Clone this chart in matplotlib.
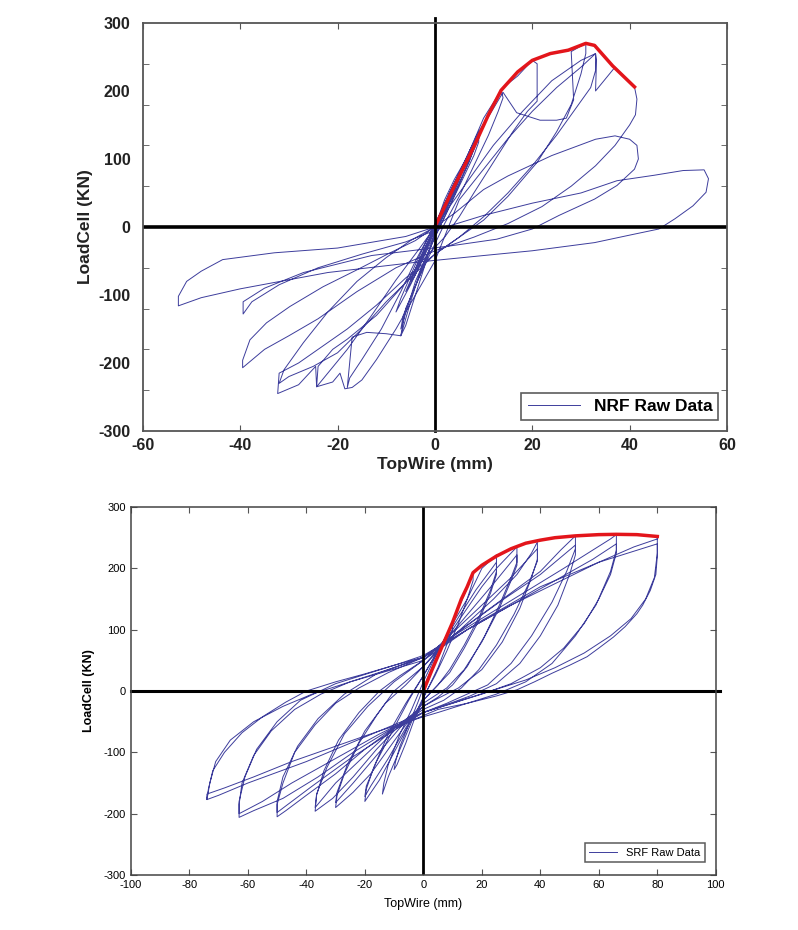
import numpy as np
import matplotlib.pyplot as plt
from matplotlib import font_manager
from matplotlib.ticker import MultipleLocator

plt.rcParams['axes.unicode_minus'] = False

# NRF specimen: TopWire (mm) vs LoadCell (kN), one list per loading cycle
nrf_x = [
    [0, 2, 4, 5, 4, 2, 0, -2, -4, -5, -4, -2, 0],
    [0, 3, 5, 3, 0, -3, -5, -3, 0],
    [0, 2, 4, 6, 5, 2, -1, -3, -6, -4, -1, 0],
    [0, 3, 6, 9, 10, 9, 6, 3, 0, -3, -5, -7, -6, -4, -2, 0, 1],
    [1, 5, 9, 9, 8, 4, 0, -4, -7, -6.5, -3, 0],
    [0, 4, 8, 7, 3, -1, -5, -8, -7, -4, 0],
    [0, 4, 7, 10, 13.6, 14, 13, 11, 8, 5, 2, 0, -3, -6, -7, -10, -14, -17, -18, -17.5, -15, -11, -7, -4, -1, 2],
    [2, 6, 10, 14, 17, 20, 21, 21, 19, 16, 12, 8, 5, 2, -2, -7, -12, -18, -21, -24, -24.3, -22, -18, -13, -8, -3, 1],
    [1, 6, 10, 14, 16.8, 21.6, 25, 27, 28.5, 28, 31, 31, 30, 28, 25, 21, 15, 10, 5, 0, -6, -12, -18, -24, -28, -32, -32.3,
     -28, -24.5, -24.3, -21, -19.5, -18.5, -17, -15, -12, -8, -4, 0],
    [0, 5, 10, 15, 20, 25, 30, 33, 33, 32, 29, 25, 20, 15, 10, 5, 0, -5, -10, -15, -20, -25, -30, -32, -31, -27, -22, -16,
     -10, -5, 0],
    [0, 6, 12, 18, 24, 30, 33, 33.2, 33, 37, 41, 41.5, 41.2, 40, 37, 33, 28, 22, 15, 8, 0, -8, -16, -24, -30, -35, -39.5,
     -39.5, -38, -34.6, -29.8, -23, -16, -9.2, -4, 0],
    [0, 4, 10, 15, 24, 33, 37, 40, 41.5, 41.8, 41, 37.4, 32.8, 25.5, 20, 12.7, 3, -13, -27, -35, -39.4, -39.4, -37.6, -32,
     -24, -15, -6, 0],
    [0, 10, 20, 30, 37.4, 45, 51, 55.3, 56.2, 55.7, 53, 49.3, 46, 40, 32.8, 20, 10, -4, -22, -40, -48, -52.7, -52.7, -51,
     -48, -43.6, -33, -20, -6, 0],
]
nrf_y = [
    [0, 35, 65, 78, 60, 25, -5, -35, -65, -80, -62, -30, 0],
    [0, 50, 75, 40, -5, -50, -78, -45, 0],
    [0, 40, 70, 95, 70, 20, -20, -45, -95, -70, -20, 0],
    [0, 50, 95, 140, 152, 130, 80, 30, -15, -65, -110, -160, -145, -100, -55, -10, 10],
    [10, 80, 140, 125, 105, 45, -15, -80, -150, -130, -70, -10],
    [-10, 55, 115, 95, 35, -25, -85, -125, -105, -55, 5],
    [5, 60, 110, 160, 201, 190, 170, 135, 90, 45, 5, -25, -70, -120, -160, -157, -155, -162, -236, -222, -195, -150, -95,
     -50, -10, 25],
    [25, 90, 150, 205, 222, 245, 240, 185, 170, 140, 95, 50, 15, -15, -45, -90, -130, -165, -180, -205, -235, -215, -180,
     -130, -78, -30, 10],
    [10, 90, 150, 198, 168, 157, 157, 160, 187, 258, 270, 255, 225, 180, 140, 95, 45, 10, -15, -40, -75, -115, -150, -180,
     -200, -215, -245, -232, -205, -235, -228, -215, -238, -236, -225, -195, -150, -100, -50],
    [-50, 40, 85, 130, 170, 205, 235, 255, 230, 205, 175, 135, 90, 50, 15, -15, -40, -75, -110, -150, -185, -205, -220,
     -230, -210, -170, -125, -80, -45, -20, 0],
    [0, 60, 120, 170, 215, 245, 255, 246, 200, 235, 206, 188, 165, 150, 120, 90, 60, 30, 5, -15, -35, -60, -95, -135, -160,
     -180, -207, -196, -166, -141, -117, -88, -63, -38, -20, 0],
    [0, 20, 55, 75, 105, 129, 134, 129, 120, 100, 85, 61, 41, 17, -3, -18, -28, -42, -67, -90, -110, -128, -110, -85, -60,
     -40, -22, -5],
    [-5, 17, 35, 50, 68, 76, 83, 84, 71, 51, 31, 12, -3, -12, -23, -35, -42, -52, -67, -91, -104, -116, -102, -80, -65,
     -48, -38, -31, -14, 0],
]
nrf_env_x = [0, 4, 8, 11, 13.6, 17, 20, 23.7, 27.4, 31, 32.8, 36.5, 41]
nrf_env_y = [0, 60, 118, 165, 201, 228, 245, 255, 260, 270, 267, 237, 206]

# SRF specimen
srf_x = [
    [0, 3, 6, 10, 10, 8, 5, 2, 0, -3, -6, -9, -10, -9.5, -8, -5, -2, 0],
    [0, 4, 8, 12, 15, 17, 17, 15, 12, 8, 4, 0, -4, -8, -12, -14, -13.5, -12, -8, -4, 0],
    [0, 5, 10, 15, 20, 25, 25, 23, 19, 14, 9, 5, 0, -5, -10, -15, -20, -19.5, -17, -12, -6, 0],
    [0, 6, 12, 18, 25, 25, 23, 19, 14, 9, 4, 0, -6, -12, -18, -20, -19.5, -16, -10, -5, 0],
    [0, 5, 10, 15, 20, 25, 30, 32, 32, 30, 26, 21, 15, 10, 5, 0, -6, -12, -18, -24, -30, -29.5, -27, -22, -16, -10, -5, 0],
    [0, 8, 16, 24, 32, 32, 30, 26, 20, 14, 8, 0, -8, -16, -24, -30, -29.5, -26, -20, -13, -6, 0],
    [0, 8, 16, 24, 32, 37, 39, 39, 36, 31, 25, 19, 13, 7, 0, -8, -16, -24, -31, -37, -36.5, -34, -29, -22, -15, -8, 0],
    [0, 10, 20, 30, 39, 39, 37, 33, 27, 20, 12, 5, 0, -10, -20, -30, -37, -36.5, -33, -27, -19, -10, 0],
    [0, 10, 20, 30, 40, 47, 52, 52, 49, 44, 37, 30, 22, 15, 8, 0, -10, -20, -30, -40, -47, -50, -50, -48, -44, -37, -30,
     -22, -12, 0],
    [0, 13, 26, 40, 52, 52, 50, 46, 40, 33, 25, 16, 8, 0, -12, -25, -38, -50, -50, -48, -43, -36, -27, -16, 0],
    [0, 12, 24, 36, 48, 58, 64, 66, 66, 64, 59, 52, 44, 35, 25, 15, 5, 0, -12, -24, -36, -48, -58, -63, -63, -61, -57, -50,
     -42, -30, -18, -8, 0],
    [0, 15, 30, 45, 58, 66, 66, 64, 60, 55, 48, 40, 30, 20, 10, 0, -15, -30, -45, -55, -63, -63, -62, -58, -52, -44, -35,
     -25, -12, 0],
    [0, 15, 30, 45, 60, 72, 80, 80, 80, 79.5, 77.6, 75, 73, 69, 65, 60, 56, 50, 44, 38, 32, 25, 15, 5, 0, -15, -30, -45,
     -58, -68, -74, -74, -73.5, -72, -68, -62, -55, -47, -40, -30, -20, -10, 0],
    [0, 20, 40, 60, 80, 80, 79, 76, 71, 64, 55, 45, 35, 25, 15, 0, -20, -40, -60, -70, -74, -73, -71, -66, -58, -48, -38,
     -25, -12, 0],
]
srf_y = [
    [0, 35, 68, 112, 100, 75, 38, 8, -12, -45, -85, -120, -128, -115, -90, -55, -20, 5],
    [5, 50, 90, 135, 168, 193, 180, 150, 110, 65, 25, -10, -50, -95, -140, -168, -150, -120, -70, -30, 15],
    [15, 65, 110, 150, 200, 222, 195, 165, 120, 75, 35, 10, -15, -55, -100, -145, -180, -160, -125, -70, -20, 25],
    [25, 75, 120, 165, 210, 190, 160, 115, 70, 30, 5, -15, -60, -110, -155, -172, -155, -115, -60, -15, 25],
    [25, 65, 100, 135, 170, 200, 225, 235, 210, 185, 140, 90, 40, 10, -10, -25, -55, -95, -135, -165, -190, -170, -135,
     -85, -40, 0, 20, 40],
    [40, 85, 130, 175, 222, 205, 180, 135, 80, 35, 5, -20, -60, -105, -150, -182, -165, -120, -65, -20, 10, 40],
    [40, 80, 115, 150, 190, 225, 243, 212, 175, 125, 75, 35, 5, -15, -30, -55, -95, -140, -175, -196, -170, -130, -80, -35,
     0, 25, 50],
    [50, 95, 140, 185, 232, 215, 185, 135, 80, 35, 5, -12, -25, -60, -105, -150, -190, -168, -125, -70, -25, 15, 50],
    [50, 90, 125, 160, 195, 230, 253, 232, 195, 145, 90, 45, 10, -5, -20, -35, -60, -95, -135, -170, -195, -205, -185,
     -150, -100, -55, -20, 5, 30, 55],
    [55, 100, 145, 190, 238, 222, 190, 140, 90, 45, 12, -8, -22, -35, -70, -110, -155, -198, -180, -140, -90, -45, -5, 28,
     55],
    [55, 95, 130, 165, 200, 230, 248, 255, 230, 195, 140, 90, 45, 15, -5, -20, -30, -40, -65, -100, -140, -175, -195, -206,
     -180, -140, -95, -50, -15, 12, 30, 45, 58],
    [58, 100, 140, 180, 215, 240, 225, 190, 150, 110, 70, 38, 12, -5, -20, -35, -70, -110, -150, -180, -200, -185, -150,
     -105, -65, -30, -5, 15, 33, 50],
    [50, 100, 140, 175, 210, 235, 248, 252, 220, 190, 164, 140, 126, 105, 88, 70, 56, 42, 29, 15, 2, -8, -20, -35, -42,
     -65, -90, -115, -140, -158, -168, -177, -160, -130, -100, -68, -42, -18, 0, 15, 28, 42, 55],
    [55, 115, 170, 210, 240, 225, 185, 150, 118, 90, 62, 38, 18, 3, -12, -35, -75, -115, -150, -170, -177, -150, -115, -80,
     -50, -25, -5, 15, 35, 55],
]
srf_env_x = [0, 3, 6, 10, 13, 15, 17, 20, 25, 30, 35, 40, 45, 52, 60, 66, 73, 80]
srf_env_y = [0, 35, 68, 112, 150, 170, 193, 205, 220, 232, 241, 246, 250, 253, 255, 255.5, 255, 252]

blue = '#3d3d9c'
red = '#e3151b'


def has_font(name):
    try:
        font_manager.findfont(name, fallback_to_default=False)
        return True
    except ValueError:
        return False


narrow = 'Liberation Sans Narrow' if has_font('Liberation Sans Narrow') else 'Liberation Sans'

fig = plt.figure(figsize=(7.98, 9.3), dpi=100)
ax1 = fig.add_axes([0.179, 0.5366, 0.732, 0.4387])
ax2 = fig.add_axes([0.164, 0.0591, 0.733, 0.3957])

# ---- top chart (NRF)
ax1.plot(np.concatenate(nrf_x), np.concatenate(nrf_y), color=blue, lw=0.7, label='NRF Raw Data')
ax1.plot(nrf_env_x, nrf_env_y, color=red, lw=2.5)
ax1.axhline(0, color='k', lw=2.6)
ax1.axvline(0, ymin=0, ymax=1.013, color='k', lw=2, clip_on=False)
ax1.set_xlim(-60, 60)
ax1.set_ylim(-300, 300)
ax1.set_xticks(range(-60, 61, 20))
ax1.set_yticks(range(-300, 301, 100))
ax1.yaxis.set_minor_locator(MultipleLocator(60))
ax1.tick_params(axis='x', direction='in', top=True, length=4, color='#555555', labelsize=11.5, pad=5)
ax1.tick_params(axis='y', which='major', length=0, labelsize=11.5, pad=9)
ax1.tick_params(axis='y', which='minor', direction='in', right=True, left=True, length=4, color='#555555')
for lab in ax1.get_xticklabels() + ax1.get_yticklabels():
    lab.set_fontweight('bold')
    lab.set_family('Liberation Sans')
    lab.set_color('#222222')
ax1.set_xlabel('TopWire (mm)', fontsize=12.5, fontweight='bold', family='Liberation Sans', labelpad=3,
               color='#222222')
ax1.set_ylabel('LoadCell (KN)', fontsize=12.5, fontweight='bold', family='Liberation Sans', labelpad=4,
               color='#222222')
for s in ax1.spines.values():
    s.set_color('#555555')
    s.set_linewidth(1.3)
leg = ax1.legend(loc='lower right', bbox_to_anchor=(0.985, 0.027), borderaxespad=0,
                 fancybox=False, edgecolor='#333333', handlelength=3.0, borderpad=0.35,
                 prop={'family': 'Liberation Sans', 'weight': 'bold', 'size': 12.5})
leg.get_frame().set_linewidth(1.2)

# ---- bottom chart (SRF)
ax2.plot(np.concatenate(srf_x), np.concatenate(srf_y), color=blue, lw=0.7, label='SRF Raw Data')
ax2.plot(srf_env_x, srf_env_y, color=red, lw=2.5)
ax2.axhline(0, xmin=0, xmax=1.008, color='k', lw=2.2, clip_on=False)
ax2.axvline(0, color='k', lw=2)
ax2.set_xlim(-100, 100)
ax2.set_ylim(-300, 300)
ax2.set_xticks(range(-100, 101, 20))
ax2.set_yticks(range(-300, 301, 100))
ax2.tick_params(direction='in', top=True, right=True, length=4, color='#555555', labelsize=8)
for lab in ax2.get_xticklabels() + ax2.get_yticklabels():
    lab.set_family(narrow)
ax2.set_xlabel('TopWire (mm)', fontsize=9, family=narrow, labelpad=6)
ax2.set_ylabel('LoadCell (KN)', fontsize=9, fontweight='bold', family='Liberation Sans', labelpad=6)
for s in ax2.spines.values():
    s.set_color('#444444')
    s.set_linewidth(1.1)
leg2 = ax2.legend(loc='lower right', bbox_to_anchor=(0.981, 0.035), borderaxespad=0,
                  fancybox=False, edgecolor='#333333', handlelength=2.5,
                  prop={'family': narrow, 'size': 8})
leg2.get_frame().set_linewidth(1.1)

fig.savefig('out.png', dpi=100)
